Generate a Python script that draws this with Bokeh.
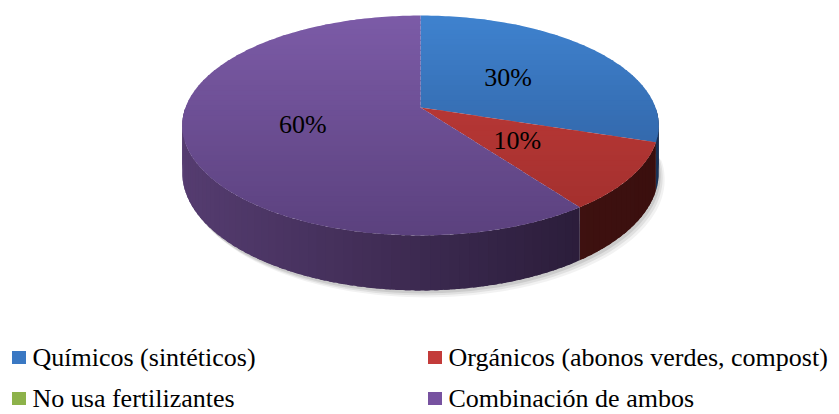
import math
from bokeh.plotting import figure
from bokeh.models import Range1d
from bokeh.embed import file_html
from bokeh.resources import INLINE
from bokeh.core.properties import value

# ---------------- data ----------------
categories = ["Químicos (sintéticos)", "Orgánicos (abonos verdes, compost)",
              "No usa fertilizantes", "Combinación de ambos"]
values = [30, 10, 0, 60]
labels = ["30%", "10%", "0%", "60%"]

# ---------------- styles ----------------
top_light = ["#3F82CF", "#C73D3B", "#9BBB59", "#7C5BA7"]
top_dark = ["#2B5794", "#9F2E2C", "#76923C", "#5B417E"]
side_light = ["#26497A", "#521A18", "#5E7A2A", "#553C70"]
side_dark = ["#1A3155", "#3A0F0E", "#3E5219", "#231730"]
legend_col = ["#3A78C3", "#C33B3A", "#8DB24A", "#7752A0"]
FONT = value("'Liberation Serif', 'Times New Roman', serif")

# projection parameters (page pixel space)
CX, CY, S, B, C, T = 420.0, 107.0, 235.0, 89.5, -0.1636, 46.0


def hexrgb(h):
    h = h.lstrip("#")
    return [int(h[i:i + 2], 16) for i in (0, 2, 4)]


def lerp(c1, c2, f):
    f = max(0.0, min(1.0, f))
    a, b = hexrgb(c1), hexrgb(c2)
    return "#%02x%02x%02x" % tuple(int(round(a[i] + (b[i] - a[i]) * f)) for i in range(3))


def proj(phi, r=1.0, drop=0.0):
    u = r * math.sin(phi)
    v = -r * math.cos(phi)
    d = 1 + C * v
    return CX + S * u / d, (CY + drop + B * v) / d


def clip_half(poly, y0, keep_above):
    out = []
    n = len(poly)
    for i in range(n):
        p1 = poly[i]
        p2 = poly[(i + 1) % n]
        in1 = p1[1] >= y0 if keep_above else p1[1] <= y0
        in2 = p2[1] >= y0 if keep_above else p2[1] <= y0
        if in1:
            out.append(p1)
        if in1 != in2:
            t = (y0 - p1[1]) / (p2[1] - p1[1])
            out.append((p1[0] + t * (p2[0] - p1[0]), y0))
    return out


total = float(sum(values))
angles = []
cum = 0.0
for v in values:
    a0 = 2 * math.pi * cum / total
    cum += v
    a1 = 2 * math.pi * cum / total
    angles.append((a0, a1))

p = figure(width=839, height=414, output_backend="svg", toolbar_location=None,
           x_range=Range1d(0, 839), y_range=Range1d(414, 0),
           min_border=0, x_axis_type=None, y_axis_type=None)
p.grid.visible = False
p.outline_line_color = None
p.background_fill_color = "white"

# ---- soft shadow ----
sh_xs, sh_ys, sh_a = [], [], []
for dx, dy, al in [(6, 7, 0.05), (4, 5, 0.07), (2, 3, 0.09)]:
    pts = [proj(math.pi / 2 + i * math.pi / 90, 1.0, T) for i in range(91)]
    pts += [proj(3 * math.pi / 2 - i * math.pi / 90, 0.9, T - 20) for i in range(91)]
    sh_xs.append([q[0] + dx for q in pts])
    sh_ys.append([q[1] + dy for q in pts])
    sh_a.append(al)
p.patches(sh_xs, sh_ys, fill_color="#000000", fill_alpha=sh_a, line_color=None)

# ---- side walls (overlapping strips to avoid seams) ----
xs, ys, cols = [], [], []
lo, hi = math.pi / 2, 3 * math.pi / 2
for i, (a0, a1) in enumerate(angles):
    if values[i] <= 0:
        continue
    s0, s1 = max(a0, lo), min(a1, hi)
    if s1 <= s0:
        continue
    n = max(2, int((s1 - s0) / math.radians(2.0)))
    step = (s1 - s0) / n
    for k in range(n):
        f0 = s0 + step * k
        f1 = min(s1, f0 + step * 1.6) if k < n - 1 else s1
        m = 6
        top = [proj(f0 + (f1 - f0) * j / m) for j in range(m + 1)]
        bot = [proj(f0 + (f1 - f0) * j / m, 1.0, T) for j in range(m + 1)][::-1]
        pts = top + bot
        xs.append([q[0] for q in pts])
        ys.append([q[1] for q in pts])
        xm = proj(f0 + step / 2)[0]
        cols.append(lerp(side_light[i], side_dark[i], (xm - 182) / 476))
p.patches(xs, ys, fill_color=cols, line_color=None)

# ---- top face with vertical gradient (overlapping bands) ----
ytop, ybot = 14.0, 236.0
nb = 44
xs, ys, cols = [], [], []
for i, (a0, a1) in enumerate(angles):
    if values[i] <= 0:
        continue
    n = max(3, int(math.degrees(a1 - a0)))
    poly = [(CX, CY)] + [proj(a0 + (a1 - a0) * k / n) for k in range(n + 1)]
    for b in range(nb):
        y0 = ytop + (ybot - ytop) * b / nb
        y1 = ytop + (ybot - ytop) * (b + 1) / nb + 1.2
        pc = clip_half(poly, y0, True)
        if len(pc) < 3:
            continue
        pc = clip_half(pc, y1, False)
        if len(pc) < 3:
            continue
        xs.append([q[0] for q in pc])
        ys.append([q[1] for q in pc])
        cols.append(lerp(top_light[i], top_dark[i], ((y0 + y1) / 2 - 15) / 220))
p.patches(xs, ys, fill_color=cols, line_color=None)

# ---- percentage labels ----
lx, ly, lt = [], [], []
for i, (a0, a1) in enumerate(angles):
    if values[i] <= 0:
        continue
    x, y = proj((a0 + a1) / 2, 0.5)
    lx.append(x - 3)
    ly.append(y)
    lt.append(labels[i])
p.text(lx, ly, text=lt, text_font=FONT, text_font_size=value("26px"),
       text_align="center", text_baseline="middle", text_color="#000000")

# ---- legend ----
sq_x = [18.5, 434.5, 18.5, 434.5]
row_y = [357.0, 357.0, 398.0, 398.0]
tx = [32, 448, 32, 448]
p.rect(sq_x, row_y, width=14, height=13, fill_color=legend_col, line_color=None)
p.text(tx, row_y, text=categories, text_font=FONT, text_font_size=value("26px"),
       text_align="left", text_baseline="middle", text_color="#000000")

open("out.html", "w").write(file_html(p, INLINE))
